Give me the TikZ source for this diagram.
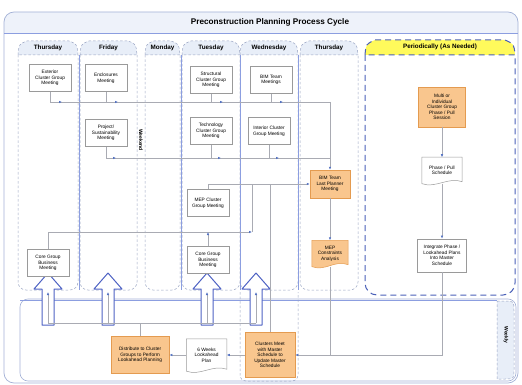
\documentclass[tikz,border=0pt]{standalone}
\usepackage{fontspec}
\setmainfont{Liberation Sans}
\usetikzlibrary{arrows.meta,positioning,backgrounds,shadows,calc}
\definecolor{framecol}{HTML}{A3B1D6}
\definecolor{sepcol}{HTML}{8C9EE0}
\definecolor{lanecol}{HTML}{98A3C2}
\definecolor{percol}{HTML}{4A60B8}
\definecolor{tabfill}{HTML}{E8EEF8}
\definecolor{titlefill}{HTML}{EEF2FA}
\definecolor{yellowtab}{HTML}{FFFA5C}
\definecolor{boxedge}{HTML}{9A9A9A}
\definecolor{orangefill}{HTML}{F9C68E}
\definecolor{orangeedge}{HTML}{E49B50}
\definecolor{linecol}{HTML}{A9ABB3}
\definecolor{tipcol}{HTML}{5573C2}
\definecolor{hollowcol}{HTML}{4F63C4}

\newcommand{\docshape}[3]{%
  \path[fill=#2, draw=#3, line width=0.5pt] (#1.north west) -- (#1.north east)
    -- ([yshift=2pt]#1.south east)
    .. controls ([xshift=-14pt,yshift=7pt]#1.south east) and ([xshift=14pt,yshift=-5pt]#1.south west) .. (#1.south west) -- cycle;}

\begin{document}
\begin{tikzpicture}[x=1pt, y=-1pt,
  every node/.style={font=\fontsize{4.8}{5.6}\selectfont},
  box/.style={draw=boxedge, fill=white, align=center, inner sep=1pt, line width=0.5pt,
    minimum width=42pt, minimum height=27pt,
    drop shadow={shadow xshift=0.8pt, shadow yshift=-0.8pt, fill=black!30, opacity=0.6}},
  obox/.style={box, draw=orangeedge, fill=orangefill},
  doc/.style={align=center, inner sep=1pt, minimum width=40pt, minimum height=26pt},
  ln/.style={draw=linecol, line width=0.6pt},
  arr/.style={ln, -{Latex[length=3pt, width=2.6pt, color=tipcol]}},
  lane/.style={draw=lanecol, line width=0.5pt, dash pattern=on 2.5pt off 2pt},
  sep/.style={draw=sepcol, line width=0.6pt},
  tab/.style={lane, fill=tabfill},
  daylbl/.style={font=\fontsize{6.3}{7}\selectfont\bfseries},
  hollow/.style={draw=hollowcol, fill=white, line width=1pt, line join=round}]
\useasboundingbox (0,0) rectangle (522,385);

% frame and title bar
\begin{scope}
  \clip (0,0) rectangle (522,33);
  \fill[titlefill, rounded corners=10pt] (4,12) rectangle (518,60);
\end{scope}
\draw[framecol, line width=0.7pt, rounded corners=10pt] (4,12) rectangle (518,383);
\draw[sep] (4,33) -- (518,33);
\node[font=\fontsize{8.2}{9}\selectfont\bfseries] (title) at (270,22) {Preconstruction Planning Process Cycle};

% day lanes
\foreach \xa/\xb/\dd in {18/78/Thursday, 80/137/Friday, 145/180/Monday, 182/240/Tuesday, 240/298/Wednesday, 300/358/Thursday}{
  \draw[tab] (\xa,55) .. controls (\xa+1,44) .. (\xa+9,41) -- (\xb-9,41) .. controls (\xb-1,44) .. (\xb,55) -- cycle;
  \node[daylbl] (day\xa) at ({(\xa+\xb)/2},48) {\dd};
  \draw[lane, rounded corners=8pt] (\xa,55) -- (\xa,290) -- (\xb,290) -- (\xb,55);
}
\node[rotate=-90, font=\fontsize{5}{6}\selectfont\bfseries] (wkend) at (141,140) {Weekend};
\foreach \xs in {79,181,240,298} \draw[sep] (\xs,55) -- (\xs,290);

% periodically
\draw[percol, fill=yellowtab, line width=1pt, dash pattern=on 6pt off 4pt] (365,55) .. controls (366,44) .. (375,40) -- (505,40) .. controls (514,44) .. (515,55) -- cycle;
\node[daylbl] (pertitle) at (440,47) {Periodically (As Needed)};
\draw[percol, line width=1pt, dash pattern=on 6pt off 4pt, rounded corners=12pt] (365,55) -- (365,295) -- (515,295) -- (515,55);

% weekly
\draw[framecol, line width=0.6pt, rounded corners=8pt] (20,299) rectangle (516,381);
\draw[lane, fill=tabfill] (497,301) -- (505,301) .. controls (514,301) .. (514,312) -- (514,369) .. controls (514,379) .. (505,379) -- (497,379) -- cycle;
\node[rotate=-90, font=\fontsize{5}{6}\selectfont\bfseries] (weekly) at (506,335) {Weekly};
\draw[sep] (20,300) -- (497,300);
\draw[lane, rounded corners=6pt] (240,292) -- (240,381) -- (298,381) -- (298,292);

% hollow arrows
\foreach \cx in {48,108,207,256}
  \draw[hollow] (\cx-6,325) -- (\cx-6,289) -- (\cx-14,289) -- (\cx,273) -- (\cx+14,289) -- (\cx+6,289) -- (\cx+6,325) -- cycle;

% meetings
\node[box] (ext) at (50,78) {Exterior\\Cluster Group\\Meeting};
\node[box] (encl) at (106,78) {Enclosures\\Meeting};
\node[box] (proj) at (106,133) {Project/\\Sustainability\\Meeting};
\node[box] (struct) at (211,80) {Structural\\Cluster Group\\Meeting};
\node[box] (bimm) at (271,80) {BIM Team\\Meetings};
\node[box] (tech) at (211,131) {Technology\\Cluster Group\\Meeting};
\node[box] (inter) at (269,131) {Interior Cluster\\Group Meeting};
\node[box] (mep) at (208,203) {MEP Cluster\\Group Meeting};
\node[box] (coreA) at (48,263) {Core Group\\Business\\Meeting};
\node[box] (coreB) at (208,260) {Core Group\\Business\\Meeting};
\node[obox, minimum width=40pt, minimum height=28pt] (bimlp) at (330,184) {BIM Team\\Last Planner\\Meeting};
\node[doc, minimum width=36pt, below=42pt of bimlp] (mepca) {MEP\\Constraints\\Analysis};
\node[obox, minimum width=47pt, minimum height=40pt] (multi) at (442,107) {Multi or\\Individual\\Cluster Group\\Phase / Pull\\Session};
\node[doc, below=30pt of multi] (phase) {Phase / Pull\\Schedule};
\node[box, minimum width=49pt, minimum height=33pt, below=55pt of phase] (integ) {Integrate Phase /\\Lookahead Plans\\Into Master\\Schedule};
\node[obox, minimum width=50pt, minimum height=45pt] (clust) at (270,355) {Clusters Meet\\with Master\\Schedule to\\Update Master\\Schedule};
\node[doc, minimum height=32pt, left=18pt of clust] (plan) {6 Weeks\\Lookahead\\Plan};
\node[obox, minimum width=58pt, minimum height=37pt, left=17pt of plan] (dist) {Distribute to Cluster\\Groups to Perform\\Lookahead Planning};

\begin{scope}[on background layer]
  \docshape{mepca}{orangefill}{orangeedge}
  \docshape{phase}{white}{boxedge}
  \docshape{plan}{white}{boxedge}
\end{scope}

% connectors
\coordinate (j1) at (330,102);
\coordinate (j2) at (330,158);
\coordinate (j3) at (252,232);
\coordinate (busL) at (48,323);
\draw[ln] (ext.south |- j1) -- (j1);
\draw[arr] (j1) -- (bimlp.north);
\foreach \n in {ext,encl,struct,bimm} \draw[arr] (\n.south) |- ($(\n.south |- j1)+(12,0)$);
\draw[ln] (proj.south |- j2) -- (j2);
\foreach \n in {proj,tech,inter} \draw[arr] (\n.south) |- ($(\n.south |- j2)+(10,0)$);
\draw[arr] (mep.north) |- (bimlp.west);
\draw[arr] (coreA.north) |- (j3);
\draw[ln] (j3) -- (j3 |- bimlp.west);
\draw[arr] (coreB.north) -- (coreB.north |- j3);
\draw[ln] (bimlp.west -| clust.north) -- (clust.north);
\draw[arr] (bimlp) -- (mepca);
\draw[ln] (mepca.south) -- (mepca.south |- clust.east);
\draw[arr] (multi) -- (phase);
\draw[arr] (phase) -- (integ);
\draw[arr] (integ.south) |- (clust.east);
\draw[arr] (clust) -- (plan);
\draw[arr] (plan) -- (dist);
\draw[ln] (dist.north) -- (dist.north |- busL);
\draw[ln] (busL) -- (256,323);
\foreach \cx in {48,108,207,256} \draw[arr] (\cx,323) -- (\cx,292);
\end{tikzpicture}
\end{document}
